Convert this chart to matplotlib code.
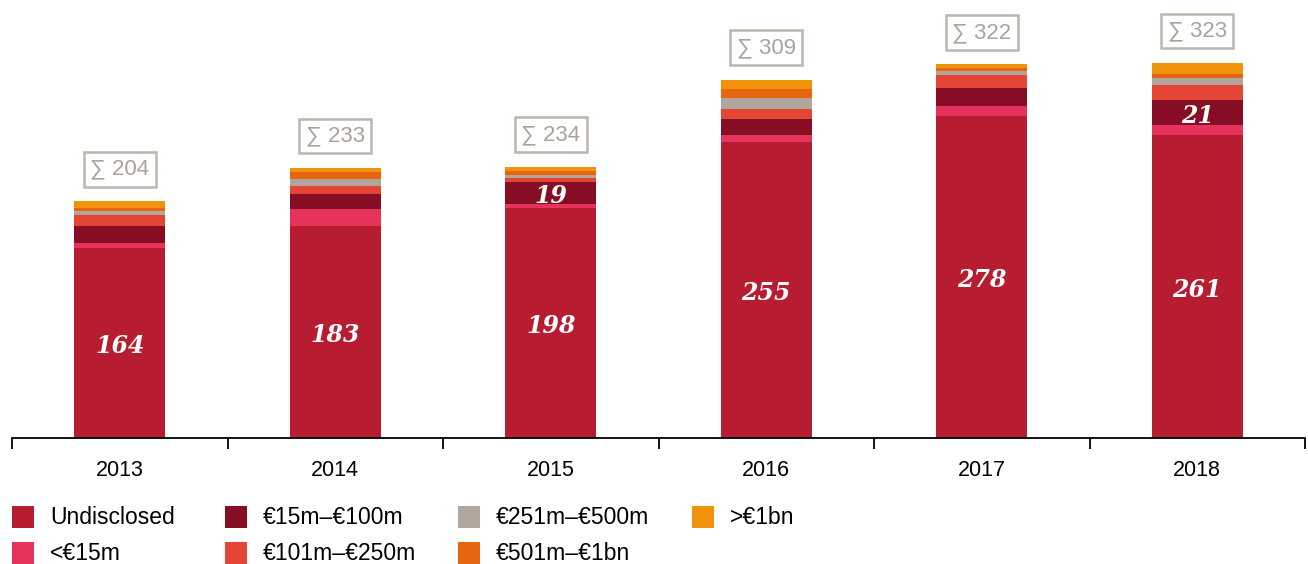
import matplotlib
matplotlib.use("Agg")
from matplotlib import pyplot as plt
from matplotlib.patches import Rectangle
import numpy as np

plt.rcParams['font.family'] = ['Liberation Sans', 'DejaVu Sans']

years = ['2013', '2014', '2015', '2016', '2017', '2018']
undisclosed = [164, 183, 198, 255, 278, 261]
under15 = [4, 14, 4, 6, 8, 9]
m15_100 = [15, 13, 19, 14, 16, 21]
m101_250 = [9, 7, 3, 9, 11, 13]
m251_500 = [4, 6, 3, 9, 3, 6]
m501_1bn = [2, 6, 3, 8, 3, 4]
over1bn = [6, 4, 4, 8, 3, 9]
totals = [204, 233, 234, 309, 322, 323]

series = [undisclosed, under15, m15_100, m101_250, m251_500, m501_1bn, over1bn]
names = ['Undisclosed', '<€15m', '€15m–€100m', '€101m–€250m',
         '€251m–€500m', '€501m–€1bn', '>€1bn']
colors = ['#b71c31', '#e5335c', '#870d24', '#e44535',
          '#b0a69d', '#e8650f', '#f0930a']
# which segments get a number written on them
labelled = {0: [0, 1, 2, 3, 4, 5], 2: [2, 5]}

W, H = 1308, 564
fig = plt.figure(figsize=(W / 100, H / 100), dpi=100)
ax = fig.add_axes([12 / W, 1 - 438 / H, (1305 - 12) / W, 438 / H])

x = np.arange(len(years))
bottom = np.zeros(len(years))
for k, vals in enumerate(series):
    vals = np.array(vals)
    ax.bar(x, vals, bottom=bottom, width=0.42, color=colors[k], linewidth=0)
    for i in labelled.get(k, []):
        ax.annotate(str(vals[i]), xy=(x[i], bottom[i] + vals[i] / 2), xytext=(0, -3),
                    textcoords='offset pixels', ha='center', va='center',
                    color='white', fontsize=17, fontweight='bold', fontstyle='italic',
                    family='DejaVu Serif')
    bottom += vals

for i, t in enumerate(totals):
    ax.annotate('∑ ' + str(t), xy=(x[i], bottom[i]), xytext=(0, 32),
                textcoords='offset pixels', ha='center', va='center',
                fontsize=16, color='#aaa29b',
                bbox=dict(boxstyle='square,pad=0.3', fc='white', ec='#bdb5ae', lw=1.8))

ax.set_xlim(-0.5, len(years) - 0.5)
ax.set_ylim(0, 438 / 1.16)
for s in ['top', 'right', 'left']:
    ax.spines[s].set_visible(False)
ax.spines['bottom'].set_linewidth(1.3)
ax.set_yticks([])
ax.set_xticks(np.arange(-0.5, len(years)), labels=[''] * (len(years) + 1))
ax.tick_params(axis='x', which='major', direction='out', length=8, width=1.3)
ax.set_xticks(x, labels=years, minor=True)
ax.tick_params(axis='x', which='minor', length=0, pad=16, labelsize=15.5)

# legend, filled column by column
col_x = [12, 225, 458, 692]
row_y = [517, 553]
for k, name in enumerate(names):
    cx = col_x[k // 2]
    cy = row_y[k % 2]
    fig.patches.append(Rectangle((cx / W, 1 - (cy + 11) / H), 22 / W, 22 / H,
                                 transform=fig.transFigure, color=colors[k], lw=0))
    fig.text((cx + 38) / W, 1 - cy / H, name, ha='left', va='center', fontsize=16.5)

plt.savefig('out.png', dpi=100)
